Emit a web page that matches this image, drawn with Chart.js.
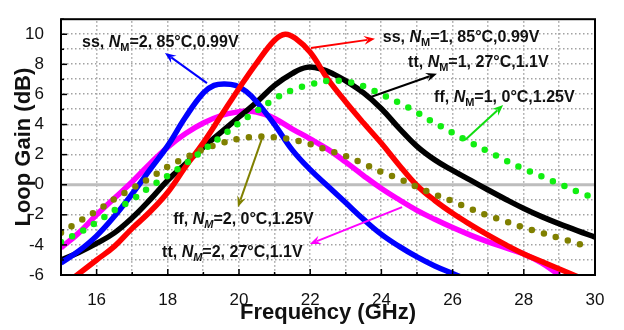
<!DOCTYPE html>
<html>
<head>
<meta charset="utf-8">
<script src="https://cdn.jsdelivr.net/npm/chart.js@4.4.0/dist/chart.umd.min.js"></script>
<style>
  html, body { margin: 0; padding: 0; background: #fff; }
</style>
</head>
<body>
<canvas id="gainChart" width="624" height="330"></canvas>
<script>
// ss, NM=1, 85C, 0.99V (red)
var ssM1Freq = [15.4, 16, 16.5, 17, 17.5, 18, 18.5, 19, 19.5, 20, 20.5, 21, 21.3, 21.6, 22, 22.5, 23, 23.5, 24, 24.5, 25, 25.5, 26, 26.5, 27, 27.5, 28, 28.5, 29, 29.5];
var ssM1Gain = [-6.1, -5.0, -4.1, -2.9, -1.8, -0.5, 1.2, 2.8, 4.6, 6.4, 8.1, 9.6, 10.0, 9.7, 8.8, 7.0, 5.5, 4.1, 2.75, 1.3, -0.05, -1.05, -1.9, -2.65, -3.35, -4.0, -4.6, -5.1, -5.6, -6.1];

// ss, NM=2, 85C, 0.99V (blue)
var ssM2Freq = [15, 15.5, 16, 16.5, 17, 17.5, 18, 18.5, 19, 19.3, 19.6, 19.9, 20.2, 20.5, 21, 21.5, 22, 22.5, 23, 23.5, 24, 24.5, 25, 25.5, 26, 26.3];
var ssM2Gain = [-5.2, -4.4, -3.4, -2.1, -0.6, 1.0, 2.6, 4.5, 6.1, 6.6, 6.7, 6.6, 6.2, 5.5, 4.0, 2.3, 1.0, -0.1, -1.2, -2.3, -3.3, -4.1, -4.8, -5.4, -5.9, -6.2];

// tt, NM=1, 27C, 1.1V (black)
var ttM1Freq = [15, 15.5, 16, 16.5, 17, 17.5, 18, 18.5, 19, 19.5, 20, 20.5, 21, 21.5, 21.9, 22.3, 22.7, 23, 23.5, 24, 24.5, 25, 25.5, 26, 26.5, 27, 27.5, 28, 28.5, 29, 29.5, 30];
var ttM1Gain = [-5.0, -4.5, -3.9, -3.2, -2.2, -1.0, 0.3, 1.4, 2.5, 3.5, 4.5, 5.5, 6.6, 7.4, 7.8, 7.7, 7.3, 6.9, 6.1, 5.05, 3.75, 2.55, 1.65, 0.95, 0.3, -0.35, -0.98, -1.58, -2.12, -2.6, -3.05, -3.48];

// tt, NM=2, 27C, 1.1V (magenta)
var ttM2Freq = [15, 15.5, 16, 16.5, 17, 17.5, 18, 18.5, 19, 19.5, 20, 20.3, 20.7, 21, 21.5, 22, 22.5, 23, 23.5, 24, 24.5, 25, 25.5, 26, 26.5, 27, 27.5, 28, 28.5, 29];
var ttM2Gain = [-4.2, -3.2, -2.0, -0.9, 0.2, 1.4, 2.5, 3.4, 4.1, 4.6, 4.85, 4.9, 4.7, 4.4, 3.7, 3.05, 2.35, 1.5, 0.6, -0.25, -1.0, -1.7, -2.3, -2.85, -3.35, -3.8, -4.2, -4.6, -5.2, -6.0];

// ff, NM=1, 0C, 1.25V (green dots)
var ffM1Freq = [15, 15.5, 16, 16.5, 17, 17.5, 18, 18.5, 19, 19.5, 20, 20.5, 21, 21.5, 22, 22.5, 23, 23.5, 24, 24.5, 25, 25.5, 26, 26.5, 27, 27.5, 28, 28.5, 29, 29.5, 30];
var ffM1Gain = [-3.8, -3.2, -2.5, -1.7, -1.0, -0.15, 0.6, 1.4, 2.3, 3.2, 4.1, 4.9, 5.7, 6.3, 6.65, 6.9, 6.85, 6.55, 6.0, 5.45, 4.8, 4.1, 3.45, 2.8, 2.2, 1.6, 1.05, 0.55, 0.05, -0.45, -0.9];

// ff, NM=2, 0C, 1.25V (olive dots)
var ffM2Freq = [15, 15.5, 16, 16.5, 17, 17.5, 18, 18.5, 19, 19.5, 20, 20.5, 21, 21.5, 22, 22.5, 23, 23.5, 24, 24.5, 25, 25.5, 26, 26.5, 27, 27.5, 28, 28.5, 29, 29.5, 29.7];
var ffM2Gain = [-3.2, -2.45, -1.75, -0.95, -0.25, 0.45, 1.2, 1.8, 2.35, 2.75, 3.05, 3.2, 3.15, 3.0, 2.7, 2.3, 1.9, 1.4, 0.85, 0.4, -0.15, -0.65, -1.1, -1.6, -2.05, -2.45, -2.85, -3.2, -3.55, -3.9, -4.05];

// 0 dB reference line
var zeroFreq = [15, 30];
var zeroGain = [0, 0];

// grid every 1 GHz / 1 dB
var gridFreq = [16, 17, 18, 19, 20, 21, 22, 23, 24, 25, 26, 27, 28, 29];
var gridGain = [-5, -4, -3, -2, -1, 1, 2, 3, 4, 5, 6, 7, 8, 9, 10];

// curve labels: text, then arrow tail/head (in GHz, dB)
var notes = [
    { pre: 'ss, ', post: '=2, 85\u00B0C,0.99V', slant: false, color: '#0000ff', at: [15.59, 9.17], from: [19.10, 6.75], to: [17.92, 8.76] },
    { pre: 'ss, ', post: '=1, 85\u00B0C,0.99V', slant: false, color: '#ff0000', at: [24.04, 9.50], from: [22.02, 9.08], to: [23.82, 9.70] },
    { pre: 'tt, ', post: '=1, 27\u00B0C,1.1V', slant: false, color: '#000000', at: [24.75, 7.82], from: [23.68, 5.81], to: [25.56, 7.38] },
    { pre: 'ff, ', post: '=1, 0\u00B0C,1.25V', slant: false, color: '#11dd11', at: [25.48, 5.51], from: [26.35, 2.97], to: [27.42, 5.30] },
    { pre: 'ff, ', post: '=2, 0\u00B0C,1.25V', slant: true, color: '#808000', at: [18.15, -2.62], from: [20.65, 3.10], to: [19.97, -1.49] },
    { pre: 'tt, ', post: '=2, 27\u00B0C,1.1V', slant: true, color: '#ff00ff', at: [17.84, -4.82], from: [24.58, -1.49], to: [21.99, -3.94] }
];

var FONT = '"Liberation Sans", Arial, sans-serif';

function pts(fs, gs) {
    return fs.map(function (f, i) { return { x: f, y: gs[i] }; });
}

function solid(label, fs, gs, color, order) {
    return {
        label: label, data: pts(fs, gs), borderColor: color, borderWidth: 5.5,
        pointRadius: 0, tension: 0.4, order: order
    };
}

function dotted(label, fs, gs, color, order) {
    return {
        label: label, data: pts(fs, gs), borderColor: color, borderWidth: 6.5,
        borderDash: [0, 12.5], borderCapStyle: 'round',
        pointRadius: 0, tension: 0.4, order: order
    };
}

function arrow(ctx, x1, y1, x2, y2, color) {
    var a = Math.atan2(y2 - y1, x2 - x1);
    var len = 11, half = 4.5;
    ctx.strokeStyle = color;
    ctx.fillStyle = color;
    ctx.lineWidth = 2;
    ctx.beginPath();
    ctx.moveTo(x1, y1);
    ctx.lineTo(x2 - Math.cos(a) * len * 0.7, y2 - Math.sin(a) * len * 0.7);
    ctx.stroke();
    ctx.beginPath();
    ctx.moveTo(x2, y2);
    ctx.lineTo(x2 - Math.cos(a) * len + Math.sin(a) * half, y2 - Math.sin(a) * len - Math.cos(a) * half);
    ctx.lineTo(x2 - Math.cos(a) * len * 0.65, y2 - Math.sin(a) * len * 0.65);
    ctx.lineTo(x2 - Math.cos(a) * len - Math.sin(a) * half, y2 - Math.sin(a) * len + Math.cos(a) * half);
    ctx.closePath();
    ctx.fill();
}

// dotted grid, drawn first
function drawGrid(chart) {
    var ctx = chart.ctx, area = chart.chartArea;
    var xs = chart.scales.x, ys = chart.scales.y;
    ctx.save();
    ctx.fillStyle = '#a2a2a2';
    gridFreq.forEach(function (f) {
        var px = Math.round(xs.getPixelForValue(f)) - 1;
        for (var y = area.top + 2; y < area.bottom; y += 4) {
            ctx.fillRect(px, y, 1.5, 1.5);
        }
    });
    gridGain.forEach(function (g) {
        var py = Math.round(ys.getPixelForValue(g)) - 1;
        for (var x = area.left + 2; x < area.right; x += 4) {
            ctx.fillRect(x, py, 1.5, 1.5);
        }
    });
    ctx.restore();
}

// frame, inward ticks and the curve labels
var decorPlugin = {
    id: 'decor',
    beforeDatasetsDraw: function (chart) {
        drawGrid(chart);
    },
    afterDraw: function (chart) {
        var ctx = chart.ctx, area = chart.chartArea;
        var xs = chart.scales.x, ys = chart.scales.y;
        ctx.save();
        ctx.strokeStyle = '#000';
        ctx.lineWidth = 1.5;
        xs.ticks.forEach(function (t) {
            var px = xs.getPixelForValue(t.value);
            var l = t.value % 2 === 0 ? 6 : 3;
            ctx.beginPath();
            ctx.moveTo(px, area.bottom);
            ctx.lineTo(px, area.bottom - l);
            ctx.stroke();
        });
        ys.ticks.forEach(function (t) {
            var py = ys.getPixelForValue(t.value);
            var l = t.value % 2 === 0 ? 6 : 3;
            ctx.beginPath();
            ctx.moveTo(area.left, py);
            ctx.lineTo(area.left + l, py);
            ctx.stroke();
        });
        ctx.lineWidth = 2;
        ctx.strokeRect(area.left, area.top, area.right - area.left, area.bottom - area.top);

        notes.forEach(function (n) {
            arrow(ctx, xs.getPixelForValue(n.from[0]), ys.getPixelForValue(n.from[1]),
                xs.getPixelForValue(n.to[0]), ys.getPixelForValue(n.to[1]), n.color);
            var x = xs.getPixelForValue(n.at[0]);
            var y = ys.getPixelForValue(n.at[1]);
            ctx.fillStyle = '#111';
            ctx.textBaseline = 'alphabetic';
            ctx.textAlign = 'left';
            ctx.font = 'bold 16px ' + FONT;
            ctx.fillText(n.pre, x, y);
            x += ctx.measureText(n.pre).width;
            ctx.font = 'italic bold 16px ' + FONT;
            ctx.fillText('N', x, y);
            x += ctx.measureText('N').width;
            ctx.font = (n.slant ? 'italic ' : '') + 'bold 11px ' + FONT;
            ctx.fillText('M', x, y + 4);
            x += ctx.measureText('M').width;
            ctx.font = 'bold 16px ' + FONT;
            ctx.fillText(n.post, x, y);
        });
        ctx.restore();
    }
};

var ctx = document.getElementById('gainChart').getContext('2d');
var gainChart = new Chart(ctx, {
    type: 'line',
    data: {
        datasets: [
            dotted('ff, NM=1', ffM1Freq, ffM1Gain, '#11ee11', 0),
            dotted('ff, NM=2', ffM2Freq, ffM2Gain, '#808000', 1),
            solid('ss, NM=1', ssM1Freq, ssM1Gain, '#ff0000', 2),
            solid('ss, NM=2', ssM2Freq, ssM2Gain, '#0000ff', 3),
            solid('tt, NM=1', ttM1Freq, ttM1Gain, '#000000', 4),
            solid('tt, NM=2', ttM2Freq, ttM2Gain, '#ff00ff', 5),
            {
                label: 'zero', data: pts(zeroFreq, zeroGain), borderColor: '#bdbdbd',
                borderWidth: 3, pointRadius: 0, order: 6
            }
        ]
    },
    options: {
        responsive: false,
        animation: false,
        layout: { padding: { top: 4, right: 29, left: 0, bottom: 0 } },
        plugins: { legend: { display: false }, tooltip: { enabled: false } },
        scales: {
            x: {
                type: 'linear', min: 15, max: 30,
                afterFit: function (s) { s.height = 55; },
                grid: { display: false },
                border: { display: false },
                ticks: {
                    stepSize: 1, autoSkip: false, maxRotation: 0, padding: 7,
                    color: '#111', font: { family: FONT, size: 17 },
                    callback: function (v) { return v % 2 === 0 ? v : ''; }
                },
                title: {
                    display: true, text: 'Frequency (GHz)', color: '#111',
                    font: { family: FONT, size: 22, weight: 'bold' },
                    padding: { top: 0, bottom: 4 }
                }
            },
            y: {
                min: -6, max: 11,
                afterFit: function (s) { s.width = 61; },
                grid: { display: false },
                border: { display: false },
                ticks: {
                    stepSize: 1, autoSkip: false, padding: 9,
                    color: '#111', font: { family: FONT, size: 17 },
                    callback: function (v) { return (v % 2 === 0 && v <= 10) ? v : ''; }
                },
                title: {
                    display: true, text: 'Loop Gain (dB)', color: '#111',
                    font: { family: FONT, size: 22, weight: 'bold' },
                    padding: { top: 11, bottom: 0 }
                }
            }
        }
    },
    plugins: [decorPlugin]
});
</script>
</body>
</html>
